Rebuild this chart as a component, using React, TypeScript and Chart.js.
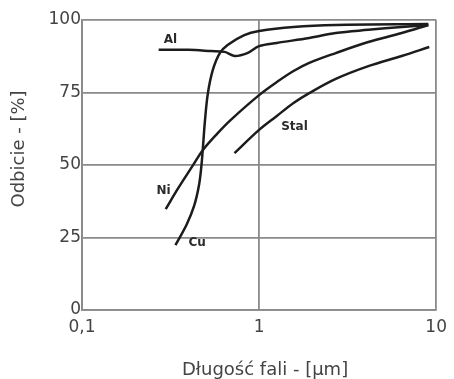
import { useEffect, useRef } from 'react';
import { Chart, registerables } from 'chart.js';

Chart.register(...registerables);

// Wavelength [µm] / reflectance [%] pairs
const alX = [0.271, 0.398, 0.534, 0.639, 0.726, 0.858, 1.0, 1.259, 1.92, 2.71, 4.14, 6.39, 9.03];
const alY = [89.7, 89.7, 89.3, 89.0, 87.6, 88.6, 91.0, 92.1, 93.8, 95.5, 96.6, 97.6, 98.3];

const cuX = [0.337, 0.39, 0.43, 0.458, 0.472, 0.482, 0.495, 0.514, 0.548, 0.6, 0.664, 0.825, 1.0, 1.565, 2.71, 9.03];
const cuY = [22.4, 29.5, 36.0, 43.1, 49.5, 56.2, 65.5, 74.8, 82.8, 88.6, 91.4, 94.8, 96.2, 97.6, 98.3, 98.6];

const niX = [0.297, 0.35, 0.414, 0.482, 0.584, 0.69, 1.0, 1.259, 1.565, 1.92, 2.71, 4.14, 6.39, 9.03];
const niY = [34.8, 42.1, 49.0, 55.2, 61.0, 65.5, 74.1, 78.6, 82.4, 85.2, 88.6, 92.4, 95.5, 98.3];

const stalX = [0.726, 1.0, 1.259, 1.565, 1.92, 2.71, 4.14, 6.39, 9.14];
const stalY = [54.1, 62.1, 66.9, 71.4, 74.8, 79.7, 84.1, 87.6, 90.7];

const seriesNames = ['Al', 'Cu', 'Ni', 'Stal'];
const seriesX = [alX, cuX, niX, stalX];
const seriesY = [alY, cuY, niY, stalY];

// curve name labels (data coordinates)
const labelTexts = ['Al', 'Cu', 'Ni', 'Stal'];
const labelX = [0.316, 0.447, 0.289, 1.585];
const labelY = [93.1, 23.1, 41.0, 63.1];

const xTickValues = [0.1, 1, 10];
const xTickLabels = ['0,1', '1', '10'];
const yTickValues = [0, 25, 50, 75, 100];
const yTickLabels = ['0', '25', '50', '75', '100'];

const xTitle = 'Długość fali - [µm]';
const yTitle = 'Odbicie - [%]';

const FONT = '"DejaVu Sans", Verdana, sans-serif';

export default function App() {
  const canvasRef = useRef<HTMLCanvasElement | null>(null);

  useEffect(() => {
    document.body.style.margin = '0';
    const canvas = canvasRef.current;
    if (!canvas) return;

    const textPlugin = {
      id: 'textPlugin',
      afterDatasetsDraw(chart: any) {
        const { ctx, scales } = chart;
        const xs = scales.x;
        const ys = scales.y;
        ctx.save();
        ctx.fillStyle = '#2a2a2a';
        ctx.font = `bold 12px ${FONT}`;
        ctx.textAlign = 'center';
        ctx.textBaseline = 'middle';
        labelTexts.forEach((t, i) => {
          ctx.fillText(t, xs.getPixelForValue(labelX[i]), ys.getPixelForValue(labelY[i]));
        });
        // axis titles
        ctx.fillStyle = '#444';
        ctx.font = `18px ${FONT}`;
        ctx.fillText(xTitle, (chart.chartArea.left + chart.chartArea.right) / 2 + 6, 370);
        ctx.translate(19, (chart.chartArea.top + chart.chartArea.bottom) / 2 - 16);
        ctx.rotate(-Math.PI / 2);
        ctx.fillText(yTitle, 0, 0);
        ctx.restore();
      },
    };

    const chart = new Chart(canvas, {
      type: 'line',
      data: {
        datasets: seriesNames.map((name, i) => ({
          label: name,
          data: seriesX[i].map((x, j) => ({ x, y: seriesY[i][j] })),
          borderColor: '#1c1c1c',
          borderWidth: 2.5,
          pointRadius: 0,
          fill: false,
          tension: 0.35,
        })),
      },
      options: {
        responsive: false,
        animation: false,
        layout: { padding: { top: 20, right: 12, left: 0, bottom: 0 } },
        plugins: {
          legend: { display: false },
          tooltip: { enabled: false },
        },
        scales: {
          x: {
            type: 'logarithmic',
            min: 0.1,
            max: 10,
            afterBuildTicks: (scale: any) => {
              scale.ticks = xTickValues.map((v) => ({ value: v }));
            },
            afterFit: (scale: any) => {
              scale.height = 69;
            },
            ticks: {
              autoSkip: false,
              maxRotation: 0,
              color: '#444',
              font: { family: FONT, size: 17 },
              padding: 7,
              callback: (v: any) => {
                const idx = xTickValues.findIndex((t) => Math.abs(t - Number(v)) < 1e-9);
                return idx >= 0 ? xTickLabels[idx] : '';
              },
            },
            grid: { color: '#8a8a8a', lineWidth: 1.8, drawTicks: false },
            border: { color: '#8a8a8a', width: 1.8 },
          },
          y: {
            type: 'linear',
            min: 0,
            max: 100,
            afterBuildTicks: (scale: any) => {
              scale.ticks = yTickValues.map((v) => ({ value: v }));
            },
            afterFit: (scale: any) => {
              scale.width = 82;
            },
            ticks: {
              color: '#444',
              font: { family: FONT, size: 17 },
              padding: 1,
              callback: (v: any) => {
                const idx = yTickValues.indexOf(Number(v));
                return idx >= 0 ? yTickLabels[idx] : '';
              },
            },
            grid: { color: '#8a8a8a', lineWidth: 1.8, drawTicks: false },
            border: { color: '#8a8a8a', width: 1.8 },
          },
        },
      },
      plugins: [textPlugin],
    });

    return () => chart.destroy();
  }, []);

  return (
    <div style={{ width: 454, height: 379, background: '#fff' }}>
      <canvas ref={canvasRef} width={454} height={379} style={{ display: 'block' }} />
    </div>
  );
}
